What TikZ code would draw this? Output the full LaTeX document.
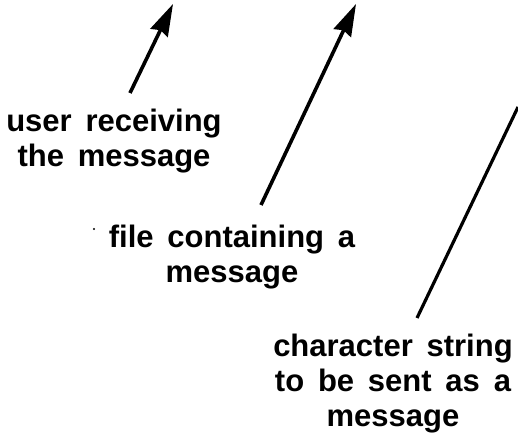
\documentclass[tikz,border=0pt]{standalone}
\usepackage{fontspec}
\setmainfont[WordSpace=1.6]{Liberation Sans}
\usetikzlibrary{positioning}
\usetikzlibrary{arrows.meta}

\tikzset{
    label_text/.style = {align=center, inner sep=0pt, font=\bfseries\fontsize{15.5}{17.5}\selectfont},
    pointer/.style = {line width=1.8pt, -{Stealth[length=16pt, width=9.5pt, inset=1.5pt]}},
    pointer_cut/.style = {line width=1.6pt}
}

\begin{document}
\begin{tikzpicture}[x=0.5pt, y=-0.5pt]
            \useasboundingbox (0,0) rectangle (518,437);

            \node[label_text] (user_0) at (114,141) {user receiving\\the message};
            \node[label_text] (file_0) at (232,257) {file containing a\\message};
            \node[label_text] (string_0) at (393,384) {character string\\to be sent as a\\message};

            \coordinate (user_tail) at (130,93);
            \coordinate (user_tip) at (173,4);
            \coordinate (file_tail) at (261,205);
            \coordinate (file_tip) at (356,4);
            \coordinate (string_tail) at (417,318);
            \coordinate (string_end) at (518,107);

            \draw[pointer] (user_tail) -- (user_tip);
            \draw[pointer] (file_tail) -- (file_tip);
            \draw[pointer_cut] (string_tail) -- (string_end);

            \fill (94,229) circle (1.2);
        \end{tikzpicture}
\end{document}
